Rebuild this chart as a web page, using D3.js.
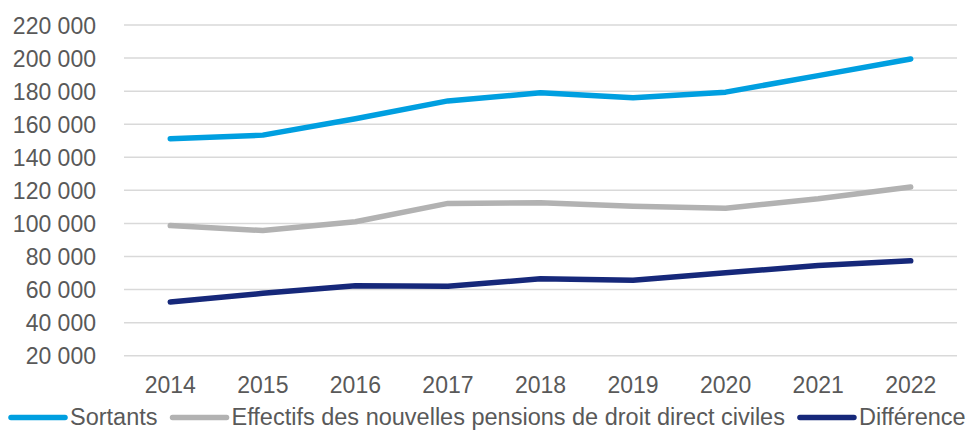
<!DOCTYPE html>
<html lang="fr">
<head>
<meta charset="utf-8">
<script src="https://cdn.jsdelivr.net/npm/d3@7/dist/d3.min.js"></script>
<style>
  html, body { margin: 0; padding: 0; background: #fff; }
  svg { display: block; font-family: "Liberation Sans", Arial, sans-serif; }
</style>
</head>
<body>
<svg id="chart" width="973" height="430"></svg>
<script>
// Années et séries
const years = ["2014", "2015", "2016", "2017", "2018", "2019", "2020", "2021", "2022"];
const sortants = [151200, 153400, 163300, 174100, 179000, 176000, 179400, 189400, 199400];
const effectifs = [98700, 95700, 101000, 112100, 112500, 110400, 109200, 114900, 122000];
const difference = [52500, 57700, 62300, 62000, 66500, 65600, 70200, 74500, 77400];
const yTicks = [20000, 40000, 60000, 80000, 100000, 120000, 140000, 160000, 180000, 200000, 220000];

const seriesNames = ["Sortants", "Effectifs des nouvelles pensions de droit direct civiles", "Différence"];
const seriesColors = ["#009FE0", "#B2B2B2", "#16287A"];
const seriesValues = [sortants, effectifs, difference];

const svg = d3.select("#chart");
const textColor = "#595959";
const fontSize = 23;
const legendFontSize = 23.5;

const x = d3.scaleBand().domain(years).range([124, 957]);
const y = d3.scaleLinear().domain([20000, 220000]).range([355.7, 25]);

const fmt = v => d3.format(",")(v).replace(/,/g, " ");

// Lignes de grille horizontales
svg.append("g")
  .selectAll("line")
  .data(yTicks)
  .join("line")
  .attr("x1", 124).attr("x2", 957)
  .attr("y1", d => y(d)).attr("y2", d => y(d))
  .attr("stroke", "#D9D9D9")
  .attr("stroke-width", 1.5);

// Axe vertical
const yAxis = svg.append("g")
  .attr("transform", "translate(96,0)")
  .call(d3.axisLeft(y).tickValues(yTicks).tickFormat(fmt).tickSize(0).tickPadding(0));
yAxis.select(".domain").remove();
yAxis.selectAll("text")
  .attr("fill", textColor)
  .attr("font-size", fontSize)
  .attr("font-family", "Liberation Sans, Arial, sans-serif")
  .attr("dy", "0.36em");

// Axe horizontal
const xAxis = svg.append("g")
  .attr("transform", "translate(0,372)")
  .call(d3.axisBottom(x).tickSize(0).tickPadding(0));
xAxis.select(".domain").remove();
xAxis.selectAll("text")
  .attr("fill", textColor)
  .attr("font-size", fontSize)
  .attr("font-family", "Liberation Sans, Arial, sans-serif")
  .attr("dy", "0.9em");

// Courbes
const line = d3.line()
  .x((d, i) => x(years[i]) + x.bandwidth() / 2)
  .y(d => y(d));

svg.append("g")
  .selectAll("path")
  .data(seriesValues)
  .join("path")
  .attr("d", d => line(d))
  .attr("fill", "none")
  .attr("stroke", (d, i) => seriesColors[i])
  .attr("stroke-width", 5.5)
  .attr("stroke-linecap", "round")
  .attr("stroke-linejoin", "round");

// Légende
const legend = svg.append("g").attr("transform", "translate(0,417.5)");
let lx = 11;
seriesNames.forEach((name, i) => {
  const g = legend.append("g").attr("transform", `translate(${lx},0)`);
  g.append("line")
    .attr("x1", 0).attr("x2", 54)
    .attr("y1", 0).attr("y2", 0)
    .attr("stroke", seriesColors[i])
    .attr("stroke-width", 5.5)
    .attr("stroke-linecap", "round");
  const t = g.append("text")
    .attr("x", 59)
    .attr("y", 7)
    .attr("fill", textColor)
    .attr("font-size", legendFontSize)
    .text(name);
  const w = t.node().getComputedTextLength();
  lx += 59 + w + 15;
});
</script>
</body>
</html>
